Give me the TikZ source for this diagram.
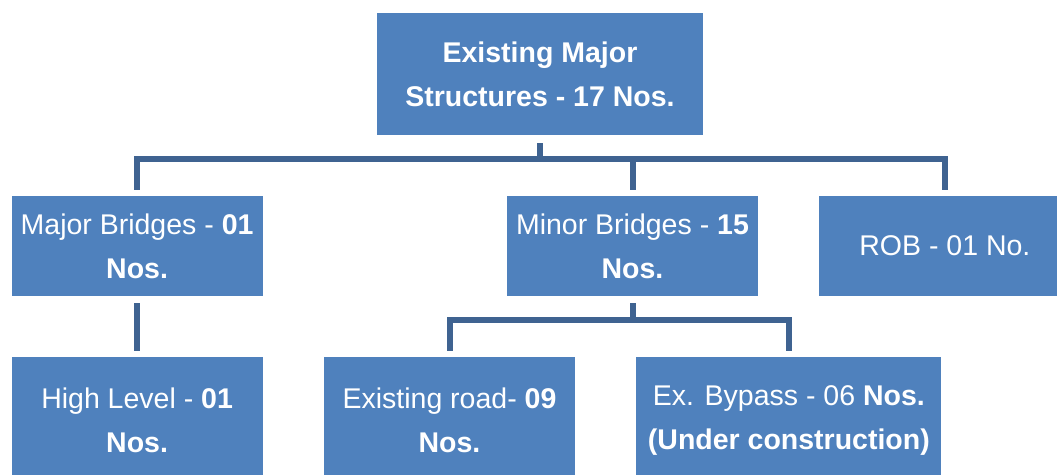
\documentclass[tikz,border=0pt]{standalone}
\usepackage{fontspec}
\setmainfont{Liberation Sans}
\usepackage{tikz}
\usetikzlibrary{positioning}
\definecolor{boxblue}{HTML}{4F81BD}
\definecolor{linkblue}{HTML}{3F6391}
\tikzset{
  node_box/.style={draw=none,fill=boxblue,inner sep=0pt,
    minimum width=251pt,minimum height=100pt,align=center,
    font=\fontsize{28.5}{44}\selectfont\color{white}},
  node_low/.style={node_box,minimum height=126pt},
  link/.style={draw=linkblue,line width=6pt},
}

\begin{document}
\begin{tikzpicture}[x=1pt,y=-1pt]
  \clip (0,0) rectangle (1057,474);
  \fill[white] (0,0) rectangle (1057,474);

  \node[node_box,minimum width=326pt,minimum height=122pt,font=\fontsize{28.5}{44}\selectfont\bfseries\color{white}]
    (root) at (540,74) {Existing Major\\Structures - 17 Nos.};

  \node[node_box] (minor) at (632.5,246) {Minor Bridges - \textbf{15}\\\textbf{Nos.}};
  \node[node_box, left=244pt of minor] (major) {Major Bridges - \textbf{01}\\\textbf{Nos.}};
  \node[node_box, right=61pt of minor] (rob) {ROB - 01 No.};

  \node[node_low, below=61pt of major] (high) {High Level - \textbf{01}\\\textbf{Nos.}};
  \node[node_low, right=61pt of high] (road) {Existing road- \textbf{09}\\\textbf{Nos.}};
  \node[node_low, minimum width=305pt, right=61pt of road] (bypass)
    {Ex. Bypass - 06 \textbf{Nos.}\\\textbf{(Under construction)}};

  \foreach \kid in {major,minor,rob}
    \draw[link,shorten <=8pt,shorten >=6pt] (root.south) -- ++(0,24) -| (\kid.north);
  \foreach \kid in {road,bypass}
    \draw[link,shorten <=7pt,shorten >=6pt] (minor.south) -- ++(0,23.5) -| (\kid.north);
  \draw[link,shorten <=7pt,shorten >=6pt] (major) -- (high);
\end{tikzpicture}
\end{document}
